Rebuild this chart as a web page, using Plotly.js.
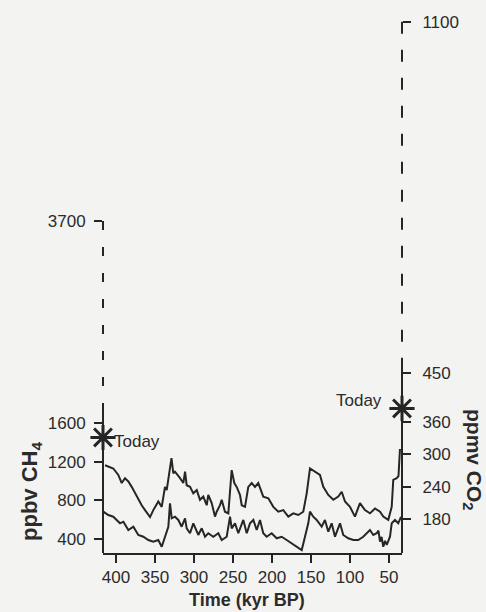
<!DOCTYPE html>
<html><head><meta charset="utf-8">
<script src="https://cdn.plot.ly/plotly-3.0.1.min.js"></script>
<style>html,body{margin:0;padding:0;background:#f3f3f1;} #chart{width:486px;height:612px;}</style>
</head><body><div id="chart"></div>
<script>
// Time in kyr BP
const co2Time = [414.1,403.5,397.1,392.7,388.5,384.2,379.9,375.6,371.4,367.1,362.8,356.4,352.2,345.8,341.4,339.4,337.2,335.0,330.8,328.9,326.5,324.4,317.9,313.7,311.5,309.4,305.1,300.9,296.5,292.3,288.1,283.7,281.7,277.3,273.1,270.9,266.7,264.5,260.3,256.0,251.7,248.3,245.3,241.0,238.8,234.6,230.4,226.0,221.8,217.6,211.2,204.7,198.3,191.9,185.5,179.1,172.7,166.3,159.9,155.5,151.3,144.9,138.5,134.2,127.8,121.4,115.0,110.6,106.4,100.0,93.6,87.2,80.8,74.4,67.9,61.5,57.3,50.9,46.5,44.5,40.1,37.8,35.9];
const co2Values = [280,274,262,247,256,250,240,228,216,206,197,184,197,213,203,219,240,234,271,293,265,268,256,247,268,243,240,228,234,216,222,206,225,210,185,194,206,216,194,191,271,247,240,225,206,203,240,247,240,247,222,219,203,194,197,185,191,188,194,228,274,268,262,240,225,216,222,231,213,203,185,210,197,191,200,194,185,179,203,253,256,260,310];
const ch4Time = [416.3,409.9,403.5,394.9,390.6,384.2,377.8,371.4,365.0,358.6,352.2,345.8,341.4,337.2,332.9,330.8,328.6,324.4,320.1,315.8,311.5,309.4,305.1,300.9,294.5,290.1,285.9,281.7,275.3,268.8,264.5,258.1,253.8,251.7,247.4,243.2,236.8,232.4,228.2,223.9,219.6,215.4,211.2,206.8,200.4,194.0,187.6,181.2,174.7,168.3,161.9,157.7,153.5,151.3,147.1,142.7,136.3,132.1,127.8,123.5,119.2,112.8,108.6,102.2,95.8,89.4,83.0,74.4,70.1,65.8,63.5,61.5,59.5,57.3,55.0,52.9,48.7,46.5,42.3,38.1,34.6];
const ch4Values = [682,647,630,561,578,492,526,440,422,388,370,388,318,422,526,769,613,630,596,526,613,509,458,561,440,509,422,458,422,458,388,422,630,509,561,458,596,458,561,596,492,596,458,422,458,406,422,388,354,318,284,422,561,682,630,596,526,596,474,561,422,561,440,406,388,388,422,492,440,458,486,370,420,318,380,336,422,561,596,561,627];

const xTicks = [400,350,300,250,200,150,100,50];
const ch4Ticks = [400,800,1200,1600,3700];
const co2Ticks = [180,240,300,360,450,1100];

// "Today" values
const todayLabel = 'Today';
const todayCH4 = 1452;
const todayCO2 = 385;

const xRange = [416.7, 33.3];
const ch4Range = [253, 5785];
const co2Range = [117.7, 1103.1];
const ch4SolidTop = 1716;
const co2SolidTop = 471;

const ink = '#252525';
const lineStyle = {color: '#262626', width: 2};
const starMarker = {symbol: 'asterisk-open', size: 21, color: ink, line: {color: ink, width: 3}};

const traces = [
  {x: ch4Time, y: ch4Values, type: 'scatter', mode: 'lines', line: lineStyle, yaxis: 'y', hoverinfo: 'skip'},
  {x: co2Time, y: co2Values, type: 'scatter', mode: 'lines', line: lineStyle, yaxis: 'y2', hoverinfo: 'skip'},
  {x: [xRange[0]], y: [todayCH4], type: 'scatter', mode: 'markers', marker: starMarker, yaxis: 'y', cliponaxis: false},
  {x: [xRange[1]], y: [todayCO2], type: 'scatter', mode: 'markers', marker: starMarker, yaxis: 'y2', cliponaxis: false}
];

const axisCommon = {ticks: 'outside', ticklen: 8, tickwidth: 2, tickcolor: ink, showgrid: false, zeroline: false, tickfont: {size: 17, color: '#2b2b2b'}};

const layout = {
  width: 486, height: 612,
  margin: {l: 103, r: 84, t: 20, b: 59},
  paper_bgcolor: '#f3f3f1', plot_bgcolor: 'rgba(0,0,0,0)',
  showlegend: false,
  font: {family: 'Liberation Sans, Arial, Helvetica, sans-serif', size: 17, color: '#2b2b2b'},
  xaxis: Object.assign({}, axisCommon, {range: xRange, tickvals: xTicks, showline: true, linewidth: 2, linecolor: ink}),
  yaxis: Object.assign({}, axisCommon, {range: ch4Range, tickvals: ch4Ticks, showline: false, ticklabelstandoff: 5}),
  yaxis2: Object.assign({}, axisCommon, {range: co2Range, tickvals: co2Ticks, showline: false, overlaying: 'y', side: 'right', anchor: 'x', ticklabelstandoff: 8}),
  shapes: [
    {type: 'line', xref: 'paper', yref: 'y', x0: 0, x1: 0, y0: ch4Range[0], y1: ch4SolidTop, line: {color: ink, width: 2}},
    {type: 'line', xref: 'paper', yref: 'y', x0: 0, x1: 0, y0: ch4Ticks[4], y1: ch4SolidTop, line: {color: ink, width: 2, dash: '9px,17px'}},
    {type: 'line', xref: 'paper', yref: 'y2', x0: 1, x1: 1, y0: co2Range[0], y1: co2SolidTop, line: {color: ink, width: 2}},
    {type: 'line', xref: 'paper', yref: 'y2', x0: 1, x1: 1, y0: co2Ticks[5], y1: co2SolidTop, line: {color: ink, width: 2, dash: '12px,16px'}}
  ],
  annotations: [
    {text: '<b>Time (kyr BP)</b>', xref: 'paper', yref: 'paper', x: (247-103)/299, y: (553-600)/533, showarrow: false, font: {size: 18}, xanchor: 'center', yanchor: 'middle'},
    {text: '<b>ppbv CH<sub>4</sub></b>', xref: 'paper', yref: 'paper', x: (31-103)/299, y: (553-492)/533, showarrow: false, textangle: -90, font: {size: 22}, xanchor: 'center', yanchor: 'middle'},
    {text: '<b>ppmv CO<sub>2</sub></b>', xref: 'paper', yref: 'paper', x: (473-103)/299, y: (553-460)/533, showarrow: false, textangle: 90, font: {size: 21}, xanchor: 'center', yanchor: 'middle'},
    {text: todayLabel, xref: 'paper', yref: 'y', x: 0, y: todayCH4, xanchor: 'left', yanchor: 'middle', xshift: 9, yshift: -4, showarrow: false, font: {size: 17}},
    {text: todayLabel, xref: 'paper', yref: 'y2', x: 1, y: todayCO2, xanchor: 'right', yanchor: 'middle', xshift: -18, yshift: 8, showarrow: false, font: {size: 17}}
  ]
};

Plotly.newPlot('chart', traces, layout, {staticPlot: true, displayModeBar: false});
</script>
</body></html>
